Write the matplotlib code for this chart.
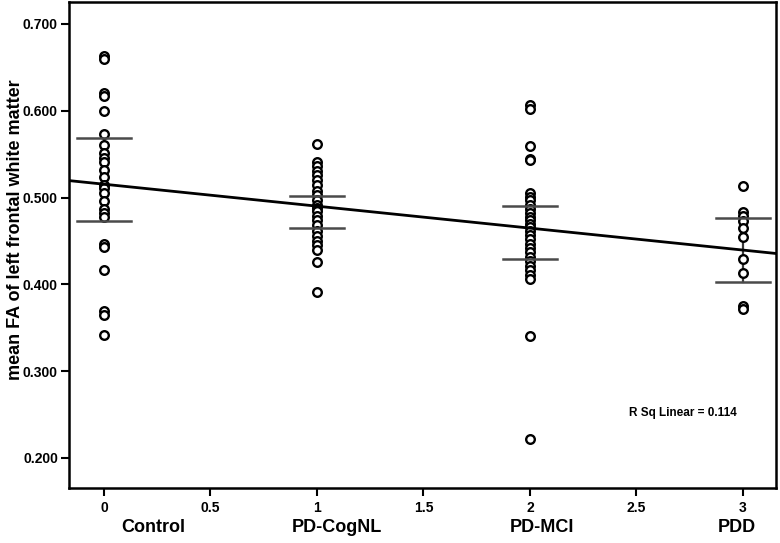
import matplotlib
matplotlib.use("Agg")
from matplotlib import pyplot as plt
from matplotlib import transforms

plt.rcParams['font.family'] = ['Liberation Sans', 'DejaVu Sans']
plt.rcParams['font.weight'] = 'bold'

# group codes and labels
groups = [0, 1, 2, 3]
group_names = ["Control", "PD-CogNL", "PD-MCI", "PDD"]
name_pos = [0.23, 1.094, 2.056, 2.97]

# mean FA values
control = [0.663, 0.660, 0.621, 0.617, 0.600, 0.573, 0.560, 0.551, 0.546, 0.541,
           0.532, 0.524, 0.515, 0.511, 0.505, 0.496, 0.487, 0.482, 0.478, 0.447,
           0.443, 0.417, 0.369, 0.365, 0.342]
cognl = [0.562, 0.541, 0.536, 0.531, 0.526, 0.520, 0.514, 0.508, 0.503, 0.497,
         0.492, 0.488, 0.484, 0.479, 0.474, 0.468, 0.462, 0.456, 0.450, 0.445,
         0.440, 0.426, 0.391]
mci = [0.607, 0.602, 0.559, 0.545, 0.543, 0.505, 0.501, 0.497, 0.492, 0.487,
       0.482, 0.478, 0.474, 0.470, 0.466, 0.462, 0.457, 0.452, 0.447, 0.442,
       0.437, 0.432, 0.427, 0.421, 0.416, 0.411, 0.406, 0.341, 0.222]
pdd = [0.513, 0.483, 0.479, 0.473, 0.465, 0.455, 0.429, 0.413, 0.375, 0.372]
series = [control, cognl, mci, pdd]

# error bar ends (upper, lower)
bar_hi = [0.569, 0.502, 0.490, 0.477]
bar_lo = [0.473, 0.465, 0.429, 0.403]

# linear fit
fit_intercept = 0.5154
fit_slope = -0.0253
r_sq = 0.114

x_min, x_max = -0.164, 3.155
y_min, y_max = 0.1654, 0.7253

fig = plt.figure(figsize=(7.8, 5.43), dpi=100)
ax = fig.add_axes([69 / 780, 1 - 488 / 543, (776 - 69) / 780, (488 - 2) / 543])

for g, vals in zip(groups, series):
    ax.plot([g] * len(vals), vals, linestyle="none", marker="o", markersize=6.2,
            markerfacecolor="white", markeredgecolor="black", markeredgewidth=1.7, zorder=3)

for g, hi, lo in zip(groups, bar_hi, bar_lo):
    ax.plot([g, g], [lo, hi], color="#3a3a3a", lw=1.6, zorder=2)
    ax.plot([g - 0.125, g + 0.125], [hi, hi], color="#4a4a4a", lw=1.8, zorder=4)
    ax.plot([g - 0.125, g + 0.125], [lo, lo], color="#4a4a4a", lw=1.8, zorder=4)

ax.plot([x_min, x_max], [fit_intercept + fit_slope * x_min, fit_intercept + fit_slope * x_max],
        color="black", lw=2.0, zorder=5)

ax.text(2.72, 0.2515, "R Sq Linear = %.3f" % r_sq, fontsize=8.5, fontweight="bold",
        ha="center", va="center")

ax.set_xlim(x_min, x_max)
ax.set_ylim(y_min, y_max)
ax.set_xticks([0, 0.5, 1, 1.5, 2, 2.5, 3])
ax.set_xticklabels(["0", "0.5", "1", "1.5", "2", "2.5", "3"])
ax.set_yticks([0.2, 0.3, 0.4, 0.5, 0.6, 0.7])
ax.set_yticklabels(["%.3f" % v for v in [0.2, 0.3, 0.4, 0.5, 0.6, 0.7]])
ax.tick_params(axis="both", direction="out", length=6, width=1.5, labelsize=10, pad=2)
ax.tick_params(axis="x", pad=3)
for lab in ax.get_xticklabels() + ax.get_yticklabels():
    lab.set_fontweight("bold")
for sp in ax.spines.values():
    sp.set_linewidth(1.8)

ax.set_ylabel("mean FA of left frontal white matter", fontsize=13, fontweight="bold")
ax.yaxis.set_label_coords(-0.064, 0.531)

trans = transforms.blended_transform_factory(ax.transData, fig.transFigure)
for pos, name in zip(name_pos, group_names):
    fig.text(pos, 1 - 528 / 543, name, transform=trans, fontsize=13, fontweight="bold",
             ha="center", va="center")

fig.savefig("out.png", dpi=100, facecolor="white")
